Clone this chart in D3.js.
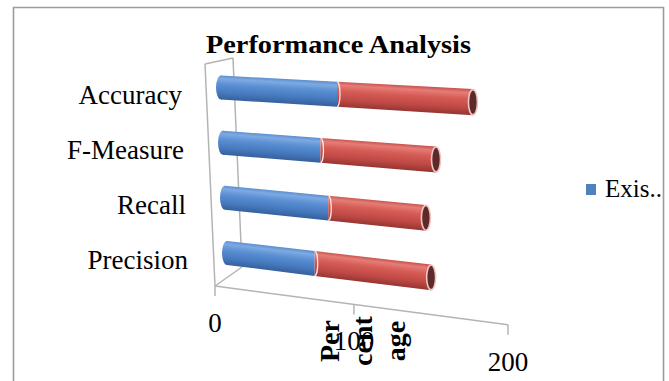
<!DOCTYPE html>
<html>
<head>
<meta charset="utf-8">
<script src="https://cdnjs.cloudflare.com/ajax/libs/d3/7.8.5/d3.min.js"></script>
<style>
body { margin: 0; background: #fff; }
svg { display: block; font-family: "Liberation Serif", "DejaVu Serif", serif; }
</style>
</head>
<body>
<svg width="669" height="381"></svg>
<script>
// chart data
const categories = ["Accuracy", "F-Measure", "Recall", "Precision"];
const existing = [84, 71, 75, 64];
const proposed = [90, 78, 66, 79];
const legendLabels = ["Exis.."];
const tickValues = [0, 100, 200];

const svg = d3.select("svg");
const defs = svg.append("defs");

defs.append("clipPath").attr("id", "frame")
    .append("rect").attr("x", 14).attr("y", 8).attr("width", 648).attr("height", 380);

const root = svg.append("g").attr("clip-path", "url(#frame)");

// outer border
svg.append("path")
    .attr("d", "M13.5,381 V7.5 H663.5 V381")
    .attr("fill", "none").attr("stroke", "#9c9c9c").attr("stroke-width", 1.6);

// perspective: everything along the value axis heads to a vanishing point on the left
const vp = [-2470, -70];
const depth = d3.scaleLinear().domain([0, 200]).range([0, 0.0984]);
function proj(v, a) {
    const f = 1 / (1 - depth(v));
    return [vp[0] + (a[0] - vp[0]) * f, vp[1] + (a[1] - vp[1]) * f, f];
}

const rowY = d3.scalePoint().domain(categories).range([87.5, 253]);
const rowX = d3.scaleLinear().domain([87.5, 253]).range([221, 227]);
const anchor = c => [rowX(rowY(c)), rowY(c)];

// walls
const wallColor = "#b4b4b4";
const wall = [
    [[205, 64], [215, 286]],
    [[233, 58], [242, 267]],
    [[205, 64], [233, 58]],
    [[215, 286], [242, 267]]
];
root.selectAll("line.wall").data(wall).enter().append("line")
    .attr("class", "wall")
    .attr("x1", d => d[0][0]).attr("y1", d => d[0][1])
    .attr("x2", d => d[1][0]).attr("y2", d => d[1][1])
    .attr("stroke", wallColor).attr("stroke-width", 1.5);

// value axis on the front of the floor
const axisAnchor = [215, 286];
const a0 = proj(0, axisAnchor), a1 = proj(200, axisAnchor);
root.append("line")
    .attr("x1", a0[0]).attr("y1", a0[1]).attr("x2", a1[0]).attr("y2", a1[1])
    .attr("stroke", wallColor).attr("stroke-width", 1.5);

const tick = root.selectAll("g.tick").data(tickValues).enter().append("g").attr("class", "tick");
tick.append("line")
    .attr("x1", d => proj(d, axisAnchor)[0]).attr("y1", d => proj(d, axisAnchor)[1])
    .attr("x2", d => proj(d, axisAnchor)[0]).attr("y2", d => proj(d, axisAnchor)[1] + 10)
    .attr("stroke", wallColor).attr("stroke-width", 1.5);
tick.append("text")
    .attr("x", d => proj(d, axisAnchor)[0]).attr("y", d => proj(d, axisAnchor)[1] + 46)
    .attr("text-anchor", "middle").attr("font-size", 27).attr("fill", "#000")
    .text(d => d);

// axis title, wrapped into three rotated lines
const titleParts = ["Per", "cent", "age"];
root.selectAll("text.atitle").data(titleParts).enter().append("text")
    .attr("class", "atitle")
    .attr("transform", (d, i) => `translate(${339 + i * 33},341) rotate(-90)`)
    .attr("text-anchor", "middle").attr("font-size", 28).attr("font-weight", "bold")
    .text(d => d);

// cylinder shading
const shades = {
    blue: ["#5b8dcf", "#7eaae2", "#5a8fd3", "#4679bd", "#35609c"],
    red: ["#c9524e", "#e57d76", "#d65b55", "#bf4945", "#963532"]
};

function gradient(id, p1, p2, h, stops) {
    const dx = p2[0] - p1[0], dy = p2[1] - p1[1];
    const len = Math.hypot(dx, dy);
    const nx = -dy / len, ny = dx / len;
    const mx = (p1[0] + p2[0]) / 2, my = (p1[1] + p2[1]) / 2;
    const g = defs.append("linearGradient").attr("id", id)
        .attr("gradientUnits", "userSpaceOnUse")
        .attr("x1", mx - nx * h).attr("y1", my - ny * h)
        .attr("x2", mx + nx * h).attr("y2", my + ny * h);
    [0, 0.14, 0.38, 0.72, 1].forEach((o, i) =>
        g.append("stop").attr("offset", o).attr("stop-color", stops[i]));
}

const half = 12;
categories.forEach((c, i) => {
    const a = anchor(c);
    const segs = [
        { v0: 0, v1: existing[i], col: "blue" },
        { v0: existing[i], v1: existing[i] + proposed[i], col: "red" }
    ];
    const g = root.append("g");
    segs.forEach((s, j) => {
        const p1 = proj(s.v0, a), p2 = proj(s.v1, a);
        const h1 = half * p1[2], h2 = half * p2[2];
        const id = `g${i}${j}`;
        gradient(id, p1, p2, (h1 + h2) / 2, shades[s.col]);
        if (j === 0) {
            g.append("ellipse")
                .attr("cx", p1[0]).attr("cy", p1[1]).attr("rx", 5).attr("ry", h1)
                .attr("fill", `url(#${id})`);
        }
        g.append("path")
            .attr("d", `M${p1[0]},${p1[1] - h1} L${p2[0]},${p2[1] - h2} L${p2[0]},${p2[1] + h2} L${p1[0]},${p1[1] + h1} Z`)
            .attr("fill", `url(#${id})`);
        if (j === 1) {
            // seam between the two stacks
            g.append("path")
                .attr("d", `M${p1[0]},${p1[1] - h1} A3,${h1} 0 0 1 ${p1[0]},${p1[1] + h1}`)
                .attr("fill", "none").attr("stroke", "#f6e6e6").attr("stroke-width", 1.3);
            // open end of the cylinder
            g.append("ellipse")
                .attr("cx", p2[0]).attr("cy", p2[1]).attr("rx", 4.5).attr("ry", h2 - 0.5)
                .attr("fill", "#5e2a29").attr("stroke", "#efc6c4").attr("stroke-width", 1.6);
        }
    });
});

// category labels
root.selectAll("text.cat").data(categories).enter().append("text")
    .attr("class", "cat")
    .attr("x", d => anchor(d)[0] - 39).attr("y", d => anchor(d)[1] + 16)
    .attr("text-anchor", "end").attr("font-size", 27).attr("fill", "#000")
    .text(d => d);

// title
root.append("text")
    .attr("x", 338.5).attr("y", 53)
    .attr("text-anchor", "middle").attr("font-size", 26).attr("font-weight", "bold")
    .attr("textLength", 265).attr("lengthAdjust", "spacingAndGlyphs")
    .text("Performance Analysis");

// legend (only the first entry fits)
const legend = root.selectAll("g.legend").data(legendLabels).enter().append("g")
    .attr("class", "legend").attr("transform", "translate(586,184)");
legend.append("rect").attr("width", 10).attr("height", 11).attr("fill", "#4f81bd");
legend.append("text").attr("x", 19).attr("y", 13)
    .attr("font-size", 25).attr("fill", "#000")
    .text(d => d);
</script>
</body>
</html>
